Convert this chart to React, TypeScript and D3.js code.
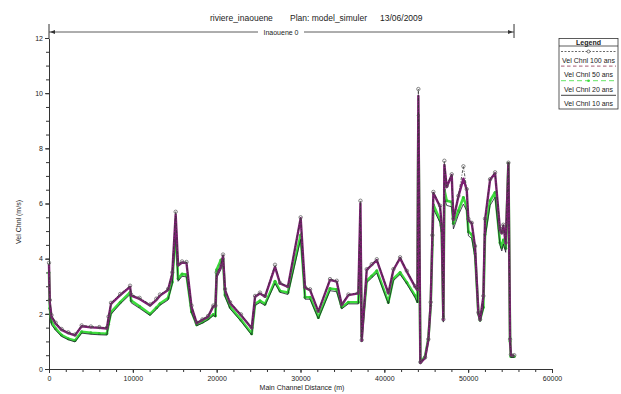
import React, { useRef, useEffect } from 'react';
import * as d3 from 'd3';

// stations along the main channel (m) and velocities (m/s) per return period
const stations = [
  0, 100, 300, 800, 1500, 2300, 3100, 3900, 5000, 6000, 6900, 7100, 7400, 8500, 9670, 9800,
  10800, 12050, 12800, 13240, 14200, 14700, 15110, 15400, 15870, 16400, 17000, 17620, 18300,
  18970, 19600, 19850, 20000, 20500, 20760, 21000, 21600, 22900, 24180, 24580, 25170, 25770,
  26960, 27560, 28500, 30020, 30540, 31140, 32130, 33520, 34320, 34920, 35710, 36900, 37150,
  37300, 37900, 38500, 39100, 40480, 41080, 41880, 42680, 43670, 43950, 44060, 44300, 44860,
  45250, 45530, 45730, 45850, 46650, 46850, 47040, 47160, 47440, 48040, 48240, 48830, 49430,
  49830, 50030, 50430, 50820, 51220, 51420, 51810, 52010, 52610, 53210, 53800, 54010, 54200,
  54480, 54800, 55000, 55100, 55500,
];
const vel100 = [
  3.85, 2.5, 1.95, 1.68, 1.45, 1.33, 1.25, 1.58, 1.54, 1.52, 1.5, 1.9, 2.4, 2.72, 3.02, 2.7,
  2.58, 2.34, 2.55, 2.7, 2.9, 3.5, 5.7, 3.8, 3.9, 3.88, 2.3, 1.68, 1.8,
  1.92, 2.3, 2.3, 3.5, 3.75, 4.15, 2.9, 2.42, 1.98, 1.5, 2.65, 2.77, 2.65,
  3.78, 3.12, 3.0, 5.5, 2.97, 2.89, 2.1, 3.26, 3.2, 2.35, 2.7, 2.76, 6.1,
  1.05, 3.62, 3.8, 3.98, 2.78, 3.62, 4.05, 3.56, 3.0, 2.9, 10.15, 0.25, 0.42,
  1.08, 2.42, 4.85, 6.42, 5.92, 5.2, 1.8, 7.55, 6.63, 7.06, 5.45, 6.28, 7.35,
  6.52, 5.44, 5.3, 4.46, 2.05, 1.8, 2.65, 5.45, 6.88, 7.13, 5.1, 4.95, 5.23,
  4.58, 7.48, 1.08, 0.52, 0.5,
];
const vel50 = [
  3.8, 2.4, 1.9, 1.64, 1.42, 1.3, 1.22, 1.55, 1.51, 1.49, 1.47, 1.85, 2.36, 2.68, 2.98, 2.66,
  2.54, 2.3, 2.5, 2.66, 2.86, 3.45, 5.6, 3.75, 3.86, 3.84, 2.25, 1.66, 1.78,
  1.89, 2.28, 2.26, 3.4, 3.7, 4.1, 2.86, 2.39, 1.95, 1.48, 2.62, 2.74, 2.62,
  3.7, 3.1, 2.98, 5.47, 2.94, 2.86, 2.08, 3.23, 3.17, 2.32, 2.68, 2.74, 6.0,
  1.02, 3.59, 3.77, 3.95, 2.74, 3.59, 4.02, 3.53, 2.98, 2.86, 9.9, 0.22, 0.4,
  1.05, 2.39, 4.8, 6.38, 5.88, 5.16, 1.78, 7.4, 6.6, 7.03, 5.4, 6.25, 6.9,
  6.49, 5.4, 5.28, 4.43, 2.02, 1.78, 2.62, 5.4, 6.85, 7.1, 5.04, 4.92, 5.2,
  4.55, 7.46, 1.05, 0.5, 0.48,
];
const vel20 = [
  3.5, 2.2, 1.7, 1.46, 1.23, 1.1, 1.03, 1.35, 1.31, 1.29, 1.28, 1.62, 2.06, 2.42, 2.78, 2.48,
  2.27, 1.99, 2.22, 2.37, 2.57, 3.15, 5.05, 3.27, 3.44, 3.42, 2.08, 1.6, 1.7,
  1.82, 1.98, 1.93, 3.6, 3.95, 4.0, 2.68, 2.25, 1.78, 1.28, 2.36, 2.47, 2.36,
  3.18, 2.83, 2.77, 4.86, 2.6, 2.6, 1.87, 2.92, 2.88, 2.24, 2.42, 2.42, 4.8,
  1.2, 3.2, 3.37, 3.56, 2.42, 3.27, 3.5, 3.14, 2.66, 2.45, 9.2, 0.25, 0.45,
  1.1, 2.3, 4.5, 5.95, 5.4, 5.0, 1.9, 6.5, 6.1, 6.05, 5.28, 5.74, 6.22,
  5.87, 4.98, 4.88, 4.18, 2.0, 1.78, 2.24, 4.88, 6.1, 6.4, 4.58, 4.41, 4.68,
  4.38, 7.46, 1.0, 0.45, 0.45,
];
const vel10 = [
  3.3, 2.1, 1.6, 1.4, 1.18, 1.06, 0.98, 1.3, 1.26, 1.24, 1.23, 1.58, 1.98, 2.36, 2.7, 2.4,
  2.2, 1.94, 2.16, 2.31, 2.5, 3.08, 4.8, 3.18, 3.36, 3.34, 2.04, 1.57, 1.66,
  1.78, 1.94, 1.89, 3.3, 3.6, 3.85, 2.62, 2.18, 1.73, 1.23, 2.3, 2.41, 2.3,
  3.1, 2.78, 2.7, 4.7, 2.53, 2.53, 1.82, 2.84, 2.8, 2.18, 2.36, 2.36, 4.5,
  1.0, 3.13, 3.3, 3.48, 2.36, 3.2, 3.43, 3.08, 2.58, 2.4, 8.9, 0.2, 0.38,
  1.0, 2.2, 4.3, 5.8, 5.3, 4.9, 1.7, 6.2, 5.93, 5.88, 5.08, 5.58, 5.98,
  5.73, 4.83, 4.73, 4.03, 1.95, 1.72, 2.18, 4.73, 5.93, 6.23, 4.48, 4.28, 4.53,
  4.23, 7.2, 0.95, 0.42, 0.42,
];

const xTicks = [0, 10000, 20000, 30000, 40000, 50000, 60000];
const yTicks = [0, 2, 4, 6, 8, 10, 12];
const legendLabels = ['Vel Chnl 100 ans', 'Vel Chnl 50 ans', 'Vel Chnl 20 ans', 'Vel Chnl 10 ans'];
const titleParts = ['riviere_inaouene', 'Plan: model_simuler', '13/06/2009'];
const reachName = 'Inaouene 0';
const reachExtent = [0, 55470];

const FONT = '"Liberation Sans", Arial, sans-serif';

const VelocityProfile: React.FC = () => {
  const svgRef = useRef<SVGSVGElement>(null);

  useEffect(() => {
    if (!svgRef.current) return;
    const width = 621;
    const height = 394;
    const svg = d3.select(svgRef.current);
    svg.selectAll('*').remove();

    svg.append('rect').attr('width', width).attr('height', height).attr('fill', '#fff');

    const x = d3.scaleLinear().domain([0, 60000]).range([49, 552]);
    const y = d3.scaleLinear().domain([0, 12]).range([369, 38]);

    // title
    const titleX = [210, 290, 380];
    titleParts.forEach((t, i) => {
      svg.append('text')
        .attr('x', titleX[i]).attr('y', 21)
        .attr('font-family', FONT).attr('font-size', 8.5).attr('fill', '#222')
        .text(t);
    });

    // reach extent line
    const ry = 32;
    const rx0 = x(reachExtent[0]);
    const rx1 = x(reachExtent[1]);
    const reach = svg.append('g').attr('stroke', '#333').attr('fill', '#333');
    reach.append('line').attr('x1', rx0).attr('x2', rx1).attr('y1', ry).attr('y2', ry).attr('stroke-width', 0.8);
    reach.append('line').attr('x1', rx0).attr('x2', rx0).attr('y1', 24).attr('y2', 38).attr('stroke-width', 1);
    reach.append('line').attr('x1', rx1).attr('x2', rx1).attr('y1', 24).attr('y2', 38).attr('stroke-width', 1);
    reach.append('path').attr('stroke', 'none').attr('d', `M${rx0 + 1},${ry} l5,-2 v4 z`);
    reach.append('path').attr('stroke', 'none').attr('d', `M${rx1 - 1},${ry} l-5,-2 v4 z`);
    const rlx = 281;
    svg.append('rect').attr('x', rlx - 23).attr('y', ry - 4).attr('width', 46).attr('height', 8).attr('fill', '#fff');
    svg.append('text')
      .attr('x', rlx).attr('y', ry + 2.5).attr('text-anchor', 'middle')
      .attr('font-family', FONT).attr('font-size', 7).attr('fill', '#222')
      .text(reachName);

    // axes
    const styleAxis = (g: d3.Selection<SVGGElement, unknown, null, undefined>) => {
      g.selectAll('path').attr('stroke', '#333');
      g.selectAll('line').attr('stroke', '#333');
      g.selectAll('text').attr('font-family', FONT).attr('font-size', 7).attr('fill', '#222');
    };

    const xMinor = svg.append('g').attr('transform', `translate(0,${y(0)})`)
      .call(d3.axisBottom(x).tickValues(d3.range(0, 60001, 2000)).tickSize(3).tickFormat(() => ''));
    xMinor.select('.domain').remove();
    styleAxis(xMinor);
    const xAxis = svg.append('g').attr('transform', `translate(0,${y(0)})`)
      .call(d3.axisBottom(x).tickValues(xTicks).tickSize(4).tickPadding(3).tickSizeOuter(0).tickFormat(d => String(d)));
    styleAxis(xAxis);

    const yMinor = svg.append('g').attr('transform', `translate(${x(0)},0)`)
      .call(d3.axisLeft(y).tickValues(d3.range(0, 12.01, 0.5)).tickSize(3).tickFormat(() => ''));
    yMinor.select('.domain').remove();
    styleAxis(yMinor);
    const yAxis = svg.append('g').attr('transform', `translate(${x(0)},0)`)
      .call(d3.axisLeft(y).tickValues(yTicks).tickSize(4).tickPadding(2).tickSizeOuter(0).tickFormat(d => String(d)));
    styleAxis(yAxis);

    svg.append('text')
      .attr('transform', `translate(21,222) rotate(-90)`).attr('text-anchor', 'middle')
      .attr('font-family', FONT).attr('font-size', 7).attr('fill', '#222')
      .text('Vel Chnl (m/s)');
    svg.append('text')
      .attr('x', 302).attr('y', 390).attr('text-anchor', 'middle')
      .attr('font-family', FONT).attr('font-size', 7).attr('fill', '#222')
      .text('Main Channel Distance (m)');

    // series
    const lineFor = (vals: number[]) =>
      d3.line<number>().x((_, i) => x(stations[i])).y(v => y(v))(vals) as string;

    svg.append('path').attr('d', lineFor(vel20)).attr('fill', 'none')
      .attr('stroke', '#3ddc3d').attr('stroke-width', 2.6).attr('stroke-linejoin', 'round');
    svg.append('g').selectAll('circle').data(vel20).enter().append('circle')
      .attr('cx', (_, i) => x(stations[i])).attr('cy', v => y(v)).attr('r', 1.5)
      .attr('fill', '#2fc42f');
    svg.append('path').attr('d', lineFor(vel10)).attr('fill', 'none')
      .attr('stroke', '#1a1a2a').attr('stroke-width', 0.8);
    svg.append('path').attr('d', lineFor(vel50)).attr('fill', 'none')
      .attr('stroke', '#7d1f72').attr('stroke-width', 2.4).attr('stroke-linejoin', 'round');
    svg.append('path').attr('d', lineFor(vel100)).attr('fill', 'none')
      .attr('stroke', '#333').attr('stroke-width', 0.8).attr('stroke-dasharray', '3,1.5,1,1.5');
    svg.append('g').selectAll('circle').data(vel100).enter().append('circle')
      .attr('cx', (_, i) => x(stations[i])).attr('cy', v => y(v)).attr('r', 1.7)
      .attr('fill', 'none').attr('stroke', '#555').attr('stroke-width', 0.7);

    // legend
    const lx = 559;
    const ly = 38.5;
    const lw = 59;
    const leg = svg.append('g');
    leg.append('rect').attr('x', lx).attr('y', ly).attr('width', lw).attr('height', 70.5)
      .attr('fill', '#fff').attr('stroke', '#333').attr('stroke-width', 0.8);
    leg.append('text').attr('x', lx + lw / 2).attr('y', ly + 6).attr('text-anchor', 'middle')
      .attr('font-family', FONT).attr('font-size', 7).attr('font-weight', 'bold').attr('fill', '#222')
      .text('Legend');
    leg.append('line').attr('x1', lx).attr('x2', lx + lw).attr('y1', ly + 7.5).attr('y2', ly + 7.5)
      .attr('stroke', '#333').attr('stroke-width', 0.8);
    const legStyles = [
      { color: '#444', dash: '2,1.5', marker: 'circle' },
      { color: '#8b2f4f', dash: '3.5,2.5', marker: '' },
      { color: '#3ddc3d', dash: '5,3', marker: 'dot' },
      { color: '#111', dash: '', marker: '' },
    ];
    legendLabels.forEach((label, i) => {
      const sy = 51.5 + i * 14.6;
      const s = legStyles[i];
      leg.append('line').attr('x1', lx + 2).attr('x2', lx + lw - 2).attr('y1', sy).attr('y2', sy)
        .attr('stroke', s.color).attr('stroke-width', 0.8).attr('stroke-dasharray', s.dash || null);
      if (s.marker === 'circle') {
        leg.append('circle').attr('cx', lx + lw / 2).attr('cy', sy).attr('r', 1.5)
          .attr('fill', '#fff').attr('stroke', s.color).attr('stroke-width', 0.7);
      } else if (s.marker === 'dot') {
        leg.append('circle').attr('cx', lx + lw / 2).attr('cy', sy).attr('r', 1.3).attr('fill', s.color);
      }
      leg.append('text').attr('x', lx + lw / 2).attr('y', sy + 11).attr('text-anchor', 'middle')
        .attr('font-family', FONT).attr('font-size', 7).attr('fill', '#222')
        .text(label);
    });
  }, []);

  return <svg ref={svgRef} width={621} height={394} style={{ display: 'block' }} />;
};

export default function App() {
  return (
    <div style={{ position: 'absolute', left: 0, top: 0 }}>
      <VelocityProfile />
    </div>
  );
}
